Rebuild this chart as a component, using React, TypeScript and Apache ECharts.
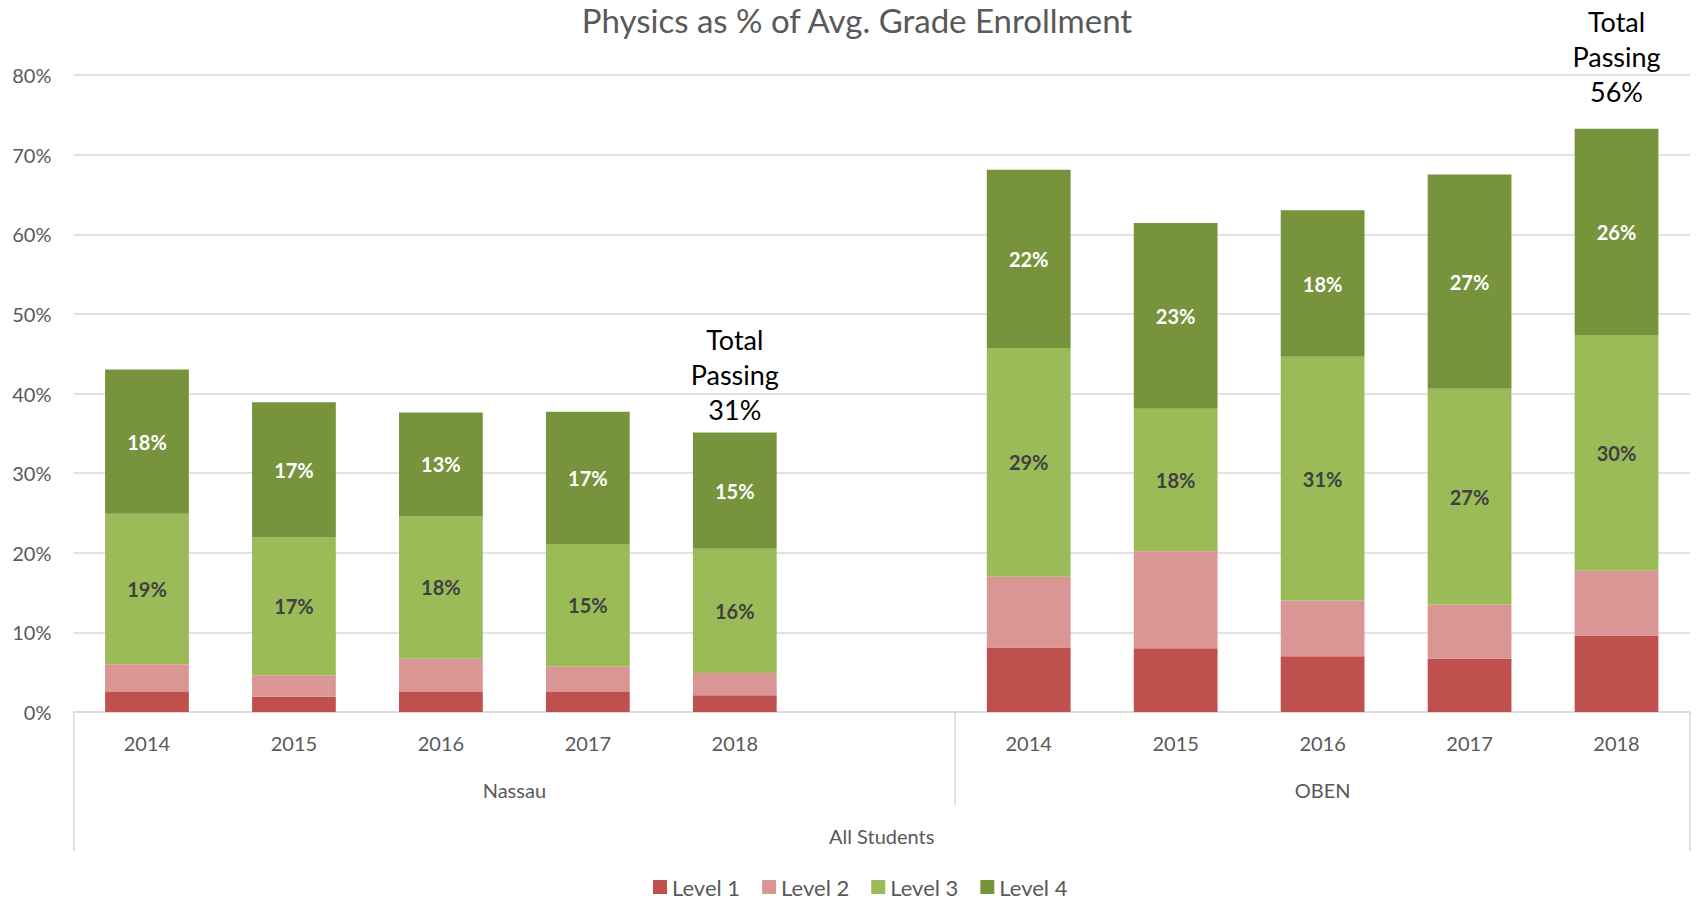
import React, { useEffect, useRef } from "react";
import * as echarts from "echarts";

const title = "Physics as % of Avg. Grade Enrollment";
const years = ["2014", "2015", "2016", "2017", "2018"];
const groups = ["Nassau", "OBEN"];
const groupSlots = [6, 5]; // Nassau has its 5 years plus an empty slot
const outerGroup = "All Students";
const categories = [...years, "", ...years];
const seriesNames = ["Level 1", "Level 2", "Level 3", "Level 4"];

const level1 = [2.5, 1.9, 2.5, 2.5, 2.1, null, 8.1, 8.0, 7.0, 6.7, 9.6];
const level2 = [3.5, 2.7, 4.2, 3.2, 2.8, null, 8.9, 12.2, 7.0, 6.8, 8.15];
const level3 = [18.9, 17.3, 17.9, 15.4, 15.6, null, 28.7, 17.9, 30.6, 27.1, 29.6];
const level4 = [18.1, 17.0, 13.0, 16.6, 14.6, null, 22.4, 23.3, 18.4, 26.9, 25.9];
const totalPassing = [null, null, null, null, 31, null, null, null, null, null, 56];

const yMin = 0;
const yMax = 80;
const yStep = 10;

const colors = ["#C0504D", "#D99694", "#9BBB59", "#77933C"];
const totalLabelDistance: Record<number, number> = { 4: 6, 10: 20 };
const FONT = "Lato";
const GRAY = "#595959";
const LINE = "#D9D9D9";

export default function App() {
  const ref = useRef<HTMLDivElement>(null);
  useEffect(() => {
    if (!ref.current) return;
    const chart = echarts.init(ref.current, undefined, { renderer: "svg" });
    const nSlots = groupSlots.reduce((a, b) => a + b, 0);
    const groupCenters: number[] = [];
    const groupBounds: number[] = [];
    let acc = 0;
    groupSlots.forEach((s) => {
      groupCenters.push(acc + s / 2);
      acc += s;
      groupBounds.push(acc);
    });
    const innerSeparators = groupBounds.slice(0, -1);
    const toData = (arr: (number | null)[]) => arr.map((v) => (v == null ? "-" : v));
    const pct = (p: any) => Math.round(p.value) + "%";

    const barBase = {
      type: "bar",
      stack: "total",
      barWidth: "57%",
      xAxisIndex: 0,
      yAxisIndex: 0,
    };

    const option: any = {
      animation: false,
      textStyle: { fontFamily: FONT },
      title: {
        text: title,
        left: 857,
        top: 3,
        textAlign: "center",
        padding: 0,
        textStyle: { fontFamily: FONT, fontSize: 33, fontWeight: "normal", color: GRAY },
      },
      legend: {
        data: seriesNames,
        left: 653,
        top: 876,
        icon: "rect",
        itemWidth: 14,
        itemHeight: 14,
        itemGap: 22,
        padding: 0,
        textStyle: { fontFamily: FONT, fontSize: 22, color: GRAY },
      },
      grid: { left: 73.5, right: 6, top: 75, bottom: 188, containLabel: false },
      xAxis: [
        {
          type: "category",
          data: categories,
          position: "bottom",
          axisLine: { show: true, lineStyle: { color: LINE, width: 1.5 } },
          axisTick: { show: false },
          axisLabel: { color: GRAY, fontSize: 20, fontFamily: FONT, margin: 21, interval: 0 },
        },
        {
          type: "value",
          min: 0,
          max: nSlots,
          position: "bottom",
          axisLine: { show: false },
          splitLine: { show: false },
          axisTick: {
            show: true,
            customValues: innerSeparators,
            length: 93,
            lineStyle: { color: LINE, width: 1.5 },
          },
          axisLabel: {
            show: true,
            customValues: groupCenters,
            formatter: (v: number) => groups[groupCenters.indexOf(v)] ?? "",
            color: GRAY,
            fontSize: 20,
            fontFamily: FONT,
            margin: 68,
          },
        },
        {
          type: "value",
          min: 0,
          max: nSlots,
          position: "bottom",
          axisLine: { show: false },
          splitLine: { show: false },
          axisTick: {
            show: true,
            customValues: [0, nSlots],
            length: 139,
            lineStyle: { color: LINE, width: 1.5 },
          },
          axisLabel: {
            show: true,
            customValues: [nSlots / 2],
            formatter: () => outerGroup,
            color: GRAY,
            fontSize: 20,
            fontFamily: FONT,
            margin: 114,
          },
        },
      ],
      yAxis: {
        type: "value",
        min: yMin,
        max: yMax,
        interval: yStep,
        axisLine: { show: false },
        axisTick: { show: false },
        splitLine: { show: true, lineStyle: { color: LINE, width: 1.5 } },
        axisLabel: { formatter: "{value}%", color: GRAY, fontSize: 20, fontFamily: FONT, margin: 22 },
      },
      series: [
        { ...barBase, name: seriesNames[0], data: toData(level1), itemStyle: { color: colors[0] } },
        { ...barBase, name: seriesNames[1], data: toData(level2), itemStyle: { color: colors[1] } },
        {
          ...barBase,
          name: seriesNames[2],
          data: toData(level3),
          itemStyle: { color: colors[2] },
          label: { show: true, position: "inside", formatter: pct, color: "#404040", fontWeight: "bold", fontSize: 20, fontFamily: FONT },
        },
        {
          ...barBase,
          name: seriesNames[3],
          data: toData(level4),
          itemStyle: { color: colors[3] },
          label: { show: true, position: "inside", formatter: pct, color: "#FFFFFF", fontWeight: "bold", fontSize: 20, fontFamily: FONT },
        },
        {
          ...barBase,
          name: "Total Passing",
          data: totalPassing.map((t, i) =>
            t == null
              ? "-"
              : {
                  value: 0,
                  label: {
                    show: true,
                    position: "top",
                    distance: totalLabelDistance[i] ?? 6,
                    formatter: `Total\nPassing\n${t}%`,
                  },
                }
          ),
          itemStyle: { color: "transparent" },
          label: { show: false, color: "#000000", fontSize: 27, lineHeight: 35, fontFamily: FONT, align: "center" },
          tooltip: { show: false },
        },
      ],
    };
    chart.setOption(option);
    return () => chart.dispose();
  }, []);
  return (
    <div
      ref={ref}
      style={{ position: "fixed", left: 0, top: 0, width: 1696, height: 900, background: "#fff" }}
    />
  );
}
